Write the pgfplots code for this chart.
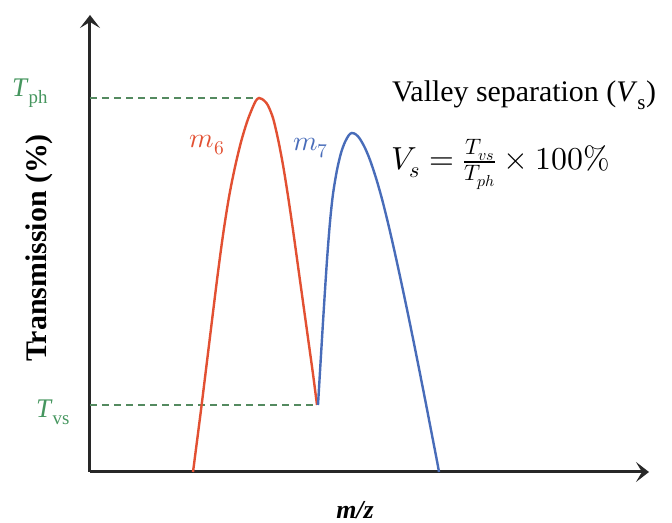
\documentclass[border=0pt]{standalone}
\usepackage{pgfplots}
\pgfplotsset{compat=1.18}
\usetikzlibrary{arrows.meta}
\usepackage{unicode-math}
\setmainfont{Liberation Serif}
\setmathfont{Latin Modern Math}

\definecolor{peakred}{RGB}{226,80,50}
\definecolor{peakblue}{RGB}{72,108,185}
\definecolor{guidegreen}{RGB}{84,138,96}
\definecolor{labelgreen}{RGB}{70,150,95}
\definecolor{axisdark}{RGB}{40,40,40}

\begin{document}
\begin{tikzpicture}
\begin{axis}[
  x=1bp, y=1bp,
  xmin=0, xmax=559, ymin=0, ymax=457,
  axis lines=left,
  axis line style={axisdark, line width=3bp},
  every outer x axis line/.append style={-{Stealth[length=13bp,width=20bp,inset=6bp]}},
  every outer y axis line/.append style={-{Stealth[length=13bp,width=20bp,inset=6bp]}},
  xtick=\empty, ytick=\empty,
  clip=false,
]
% guide lines to peak and valley heights
\addplot[guidegreen, line width=1.6bp, dash pattern=on 7bp off 5bp] coordinates {(0,374) (169,374)};
\addplot[guidegreen, line width=1.6bp, dash pattern=on 7bp off 5bp] coordinates {(0,67) (227,67)};

% peak m6
\addplot[peakred, line width=2.4bp, smooth, tension=0.5] coordinates {
  (103,0) (111,62) (119,127) (127,192) (133,237) (139,275) (145,305)
  (151,330) (157,350) (162,363) (166,371.5) (169,374) (172,373)
  (175,370.5) (178,366.5) (183,354) (188,333) (193,307) (198,276)
  (203,242) (208,206) (213,170) (218,134) (223,98) (227,67)
};
% peak m7
\addplot[peakblue, line width=2.4bp, smooth, tension=0.5] coordinates {
  (228,67) (231,117) (234,166) (237,212) (240,250) (243,278) (247,302)
  (251,319) (255,330) (259,337) (262,339) (266,337.5) (270,333)
  (275,324) (280,312) (286,294) (292,273) (298,249) (304,223) (311,191)
  (319,153) (327,113.5) (335,73) (341,42) (347,11) (349,0)
};

\node[text=labelgreen, font=\fontsize{27}{32}\selectfont] at (axis cs:-60,379) {\textit{T}\textsubscript{ph}};
\node[text=labelgreen, font=\fontsize{27}{32}\selectfont] at (axis cs:-37,60) {\textit{T}\textsubscript{vs}};

\node[text=peakred, font=\fontsize{28}{34}\selectfont] at (axis cs:117,327) {$m_6$};
\node[text=peakblue, font=\fontsize{28}{34}\selectfont] at (axis cs:221,324) {$m_7$};

\node[rotate=90, font=\bfseries\fontsize{30}{36}\selectfont] at (axis cs:-51,224) {Transmission (\%)};
\node[font=\bfseries\itshape\fontsize{26}{31}\selectfont] at (axis cs:265,-38) {m/z};

\node[anchor=base west, inner sep=0pt, font=\fontsize{30}{36}\selectfont] at (axis cs:302,370)
  {Valley separation (\textit{V}\textsubscript{s})};
\node[anchor=base west, inner sep=0pt, font=\fontsize{32}{38}\selectfont] at (axis cs:301,302)
  {$V_s = \frac{T_{vs}}{T_{ph}} \times 100\%$};

\coordinate (bbsw) at (axis cs:-90,-51);
\coordinate (bbne) at (axis cs:582,472);
\end{axis}
\pgfresetboundingbox
\path[use as bounding box] (bbsw) rectangle (bbne);
\end{tikzpicture}
\end{document}
